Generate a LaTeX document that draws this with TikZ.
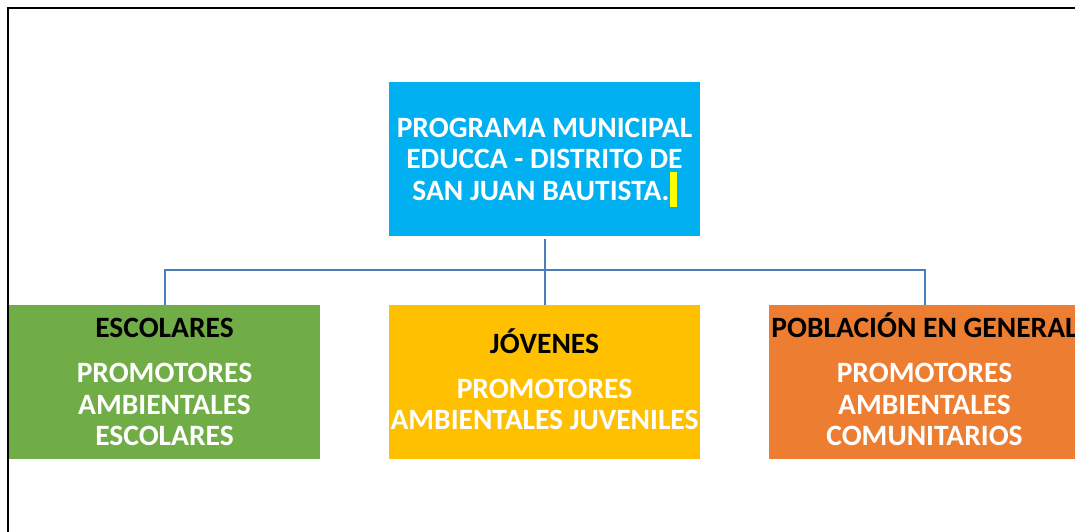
\documentclass[tikz,border=0pt]{standalone}
\usepackage{fontspec}
\setmainfont{Carlito}
\definecolor{cblue}{HTML}{00B0F0}
\definecolor{cgreen}{HTML}{70AD47}
\definecolor{cyell}{HTML}{FFC000}
\definecolor{corange}{HTML}{ED7D31}
\definecolor{cline}{HTML}{4A7EBB}
\definecolor{hl}{HTML}{FFFF00}
\begin{document}
\begin{tikzpicture}[x=1pt,y=-1pt,
  box/.style={rectangle, inner sep=0pt, minimum width=311pt, minimum height=154pt,
    text=white, align=center, font=\bfseries\fontsize{29.5}{31.5}\selectfont},
  link/.style={draw=cline, line width=2pt}]
\useasboundingbox (0,0) rectangle (1075,532);
\clip (0,0) rectangle (1075,532);
\draw[line width=2.2pt] (8,560) -- (8,8) -- (1100,8);
\node[box, fill=cblue] (top) at (544.5,159) {PROGRAMA MUNICIPAL\\EDUCCA - DISTRITO DE\\SAN JUAN BAUTISTA.\smash{\color{hl}\rule[-0.25em]{7pt}{1.2em}}};
\node[box, fill=cgreen] (esc) at (164.5,382) {\textcolor{black}{ESCOLARES}\\[13.5pt]PROMOTORES\\AMBIENTALES\\ESCOLARES};
\node[box, fill=cyell] (jov) at (544.5,382) {\textcolor{black}{J\smash{Ó}VENES}\\[13.5pt]PROMOTORES\\AMBIENTALES JUVENILES};
\node[box, fill=corange] (pob) at (924.5,382) {\textcolor{black}{POBLACI\smash{Ó}N EN GENERAL}\\[13.5pt]PROMOTORES\\AMBIENTALES\\COMUNITARIOS};
\coordinate (bar) at (544.5,270);
\draw[link] ([yshift=-3pt]top.south) -- (jov.north);
\draw[link] (esc.north) -- (esc.north |- bar) -- (pob.north |- bar) -- (pob.north);
\end{tikzpicture}
\end{document}
